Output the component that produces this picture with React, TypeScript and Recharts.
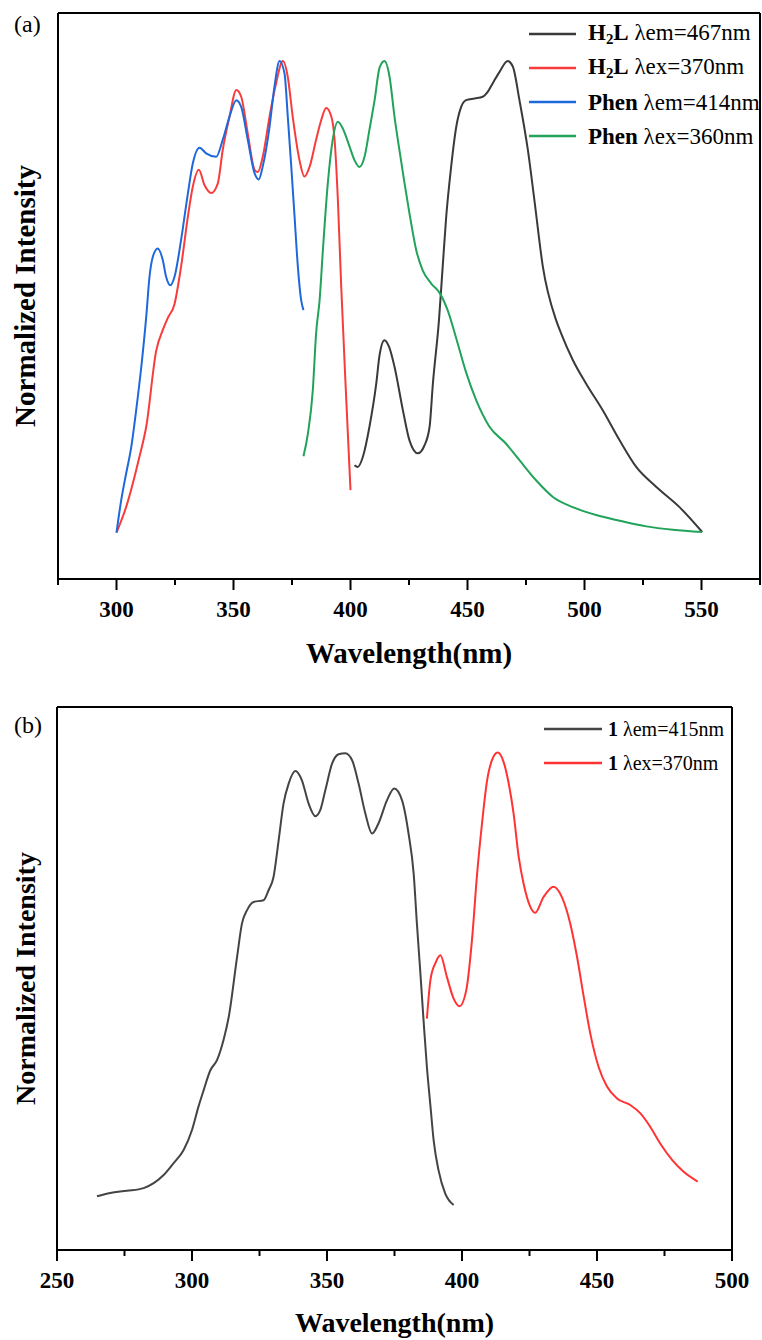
import React from 'react';
import { LineChart, Line, XAxis, YAxis, ReferenceLine, Legend } from 'recharts';

const SERIF = "'Liberation Serif', 'Times New Roman', 'DejaVu Serif', serif";

// panel (a): [wavelength nm, normalized intensity 0-100]
const H2L_EM: [number, number][] = [
  [401.7, 20.1], [403.1, 19.8], [405.3, 21.6], [408.1, 26.9], [411.0, 34.5], [412.4, 39.5],
  [414.5, 42.2], [416.5, 41.0], [418.8, 37.5], [422.4, 29.8], [425.2, 24.5], [428.8, 22.2],
  [431.5, 23.5], [433.8, 26.9], [435.2, 34.5], [437.8, 45.7], [439.4, 55.2], [440.9, 64.0],
  [443.0, 72.8], [445.2, 79.9], [447.3, 83.4], [449.4, 84.6], [453.0, 84.9], [456.5, 85.2],
  [458.7, 86.1], [460.8, 87.6], [463.7, 89.6], [467.2, 91.5], [469.4, 90.5], [472.2, 84.6],
  [475.8, 75.8], [478.6, 66.9], [482.2, 55.2], [487.9, 45.7], [490.0, 43.4], [495.0, 38.7],
  [500.7, 34.5], [507.8, 29.8], [515.0, 24.5], [522.1, 19.8], [530.6, 16.3], [540.6, 12.7],
  [550.3, 8.3],
];

const H2L_EX: [number, number][] = [
  [300.0, 8.2], [304.1, 12.7], [309.8, 21.6], [312.7, 26.9], [317.0, 40.4], [319.8, 44.0],
  [321.9, 46.1], [324.8, 48.6], [327.6, 55.2], [330.5, 64.0], [332.6, 69.3], [335.2, 72.3],
  [337.6, 69.6], [340.5, 68.2], [343.3, 69.9], [345.4, 75.8], [348.3, 81.7], [351.2, 86.4],
  [353.3, 85.2], [356.1, 78.7], [359.0, 72.3], [360.4, 71.9], [362.5, 74.6], [365.4, 81.7],
  [368.2, 87.6], [371.1, 91.5], [373.2, 88.7], [375.3, 81.7], [378.2, 74.0], [380.3, 71.1],
  [382.5, 72.8], [385.3, 77.6], [387.5, 81.1], [389.6, 83.2], [391.8, 81.7], [393.2, 77.6],
  [394.6, 67.0], [396.0, 52.0], [398.2, 31.6], [400.0, 15.7],
];

const PHEN_EM: [number, number][] = [
  [300.0, 8.2], [302.0, 13.9], [304.1, 18.6], [306.3, 23.3], [308.4, 29.8], [310.6, 37.5],
  [312.7, 46.3], [314.1, 53.4], [315.5, 56.9], [317.6, 58.4], [319.8, 56.3], [321.2, 53.4],
  [323.0, 51.9], [324.8, 53.4], [327.6, 59.9], [330.5, 68.1], [332.6, 73.4], [335.5, 76.2],
  [338.3, 75.2], [342.6, 74.6], [345.4, 77.6], [348.3, 81.7], [351.2, 84.6], [353.3, 83.4],
  [356.1, 77.6], [359.0, 71.7], [360.8, 70.6], [362.5, 72.9], [365.4, 79.9], [367.5, 87.0],
  [369.7, 91.5], [371.8, 89.3], [373.2, 81.7], [374.7, 72.8], [376.1, 64.0], [377.5, 55.2],
  [378.9, 49.3], [379.9, 47.5],
];

const PHEN_EX: [number, number][] = [
  [379.9, 21.7], [381.8, 25.7], [383.9, 33.4], [385.3, 43.4], [386.8, 49.3], [388.2, 58.1],
  [390.3, 69.9], [392.4, 77.6], [394.6, 80.8], [396.7, 79.6], [399.6, 76.4], [401.7, 74.0],
  [403.8, 72.8], [406.0, 74.6], [408.1, 79.4], [410.3, 84.6], [412.4, 90.3], [414.5, 91.5],
  [416.7, 88.7], [418.8, 81.7], [420.9, 75.8], [423.1, 69.9], [425.2, 64.6], [428.1, 58.1],
  [430.9, 54.5], [434.5, 52.2], [438.0, 50.6], [441.5, 47.5], [445.2, 42.5], [449.4, 36.5],
  [453.7, 31.6], [459.4, 26.9], [466.5, 23.9], [472.2, 21.0], [479.4, 17.4], [486.5, 14.5],
  [495.0, 12.7], [505.0, 11.3], [515.0, 10.3], [526.4, 9.3], [537.7, 8.7], [550.3, 8.3],
];

// panel (b)
const C1_EM: [number, number][] = [
  [264.8, 9.9], [269.7, 10.5], [275.9, 10.9], [282.1, 11.4], [285.8, 12.3], [289.5, 13.8],
  [293.2, 16.0], [296.9, 18.4], [300.0, 22.1], [302.4, 26.4], [304.3, 29.4], [306.8, 33.1],
  [309.3, 35.0], [311.7, 38.7], [313.6, 42.9], [316.7, 54.0], [318.5, 60.1], [320.4, 62.6],
  [322.8, 64.1], [326.5, 64.4], [328.4, 66.3], [330.2, 68.7], [332.1, 75.5], [333.9, 82.2],
  [335.8, 85.9], [338.3, 88.2], [340.7, 86.5], [343.2, 82.2], [345.7, 79.9], [347.5, 81.0],
  [349.4, 84.7], [351.9, 89.6], [354.3, 91.3], [356.8, 91.5], [359.3, 90.2], [361.7, 85.9],
  [364.2, 80.4], [366.7, 76.7], [369.1, 78.6], [372.2, 82.8], [374.9, 85.0], [377.8, 82.8],
  [380.2, 76.7], [382.1, 69.3], [383.3, 60.1], [384.6, 50.9], [385.8, 42.0], [387.0, 33.7],
  [388.3, 26.6], [389.5, 20.2], [391.3, 14.7], [393.8, 10.4], [396.9, 8.3],
];

const C1_EX: [number, number][] = [
  [387.0, 42.6], [388.3, 49.7], [390.1, 52.8], [392.0, 54.3], [394.4, 50.3], [396.9, 46.3],
  [399.1, 44.9], [401.6, 47.9], [403.7, 57.1], [405.6, 69.3], [407.4, 78.5], [409.3, 86.5],
  [411.1, 90.2], [413.2, 91.6], [415.4, 89.9], [417.3, 85.9], [419.1, 80.4], [421.0, 72.4],
  [422.8, 67.5], [425.3, 63.2], [427.1, 62.1], [430.2, 65.0], [433.9, 66.9], [437.0, 65.0],
  [440.1, 60.1], [442.6, 54.0], [445.0, 46.9], [447.5, 39.9], [450.6, 33.7], [453.7, 30.1],
  [457.4, 27.9], [462.3, 26.7], [466.0, 25.2], [469.7, 22.7], [473.4, 19.6], [477.8, 16.6],
  [482.1, 14.4], [487.3, 12.6],
];

const TICKS_A = [275, 300, 325, 350, 375, 400, 425, 450, 475, 500, 525, 550, 575];
const TICKS_B = [250, 275, 300, 325, 350, 375, 400, 425, 450, 475, 500];

const toPts = (arr: [number, number][]) => arr.map(([wl, v]) => ({ wl, v }));

const renderTick = (props: any) => {
  const { x, y, payload } = props;
  const major = payload.value % 50 === 0;
  return (
    <g>
      <line x1={x} x2={x} y1={y} y2={y + (major ? 11 : 6)} stroke="#000" strokeWidth={2} />
      {major && (
        <text x={x} y={y + 38} textAnchor="middle" fontFamily={SERIF} fontWeight="bold" fontSize={23} fill="#000">
          {payload.value}
        </text>
      )}
    </g>
  );
};

type Entry = { color: string; label: React.ReactNode };

function LegendBox({ entries, lineW, gap, rowH, fontSize }: { entries: Entry[]; lineW: number; gap: number; rowH: number; fontSize: number }) {
  return (
    <div style={{ fontFamily: SERIF, fontSize, color: '#000' }}>
      {entries.map((e, i) => (
        <div key={i} style={{ display: 'flex', alignItems: 'center', height: rowH, whiteSpace: 'nowrap' }}>
          <svg width={lineW} height={4} style={{ marginRight: gap, flex: 'none' }}>
            <line x1={0} x2={lineW} y1={2} y2={2} stroke={e.color} strokeWidth={2.5} />
          </svg>
          <span style={{ lineHeight: 1 }}>{e.label}</span>
        </div>
      ))}
    </div>
  );
}

const H2 = (
  <b>
    H<span style={{ fontSize: '0.65em', verticalAlign: '-0.3em' }}>2</span>L
  </b>
);

const LEGEND_A: Entry[] = [
  { color: '#3a3a3a', label: <>{H2} λem=467nm</> },
  { color: '#f83c3c', label: <>{H2} λex=370nm</> },
  { color: '#1f68dc', label: <><b>Phen</b> λem=414nm</> },
  { color: '#21a35a', label: <><b>Phen</b> λex=360nm</> },
];

const LEGEND_B: Entry[] = [
  { color: '#444444', label: <><b>1</b> λem=415nm</> },
  { color: '#ff3333', label: <><b>1</b> λex=370nm</> },
];

const axisLine = { stroke: '#000', strokeWidth: 2 };
const titleStyle = (fontSize: number) => ({ fontFamily: SERIF, fontWeight: 'bold', fontSize, fill: '#000', textAnchor: 'middle' as const });

export default function App() {
  return (
    <div style={{ position: 'absolute', left: 0, top: 0, width: 762, height: 1340, background: '#fff' }}>
      <div style={{ position: 'absolute', left: 0, top: 0 }}>
        <LineChart width={762} height={680} margin={{ top: 13, right: 2, bottom: 0, left: 0 }}>
          <XAxis
            type="number"
            dataKey="wl"
            domain={[275, 575]}
            ticks={TICKS_A}
            interval={0}
            allowDataOverflow
            tick={renderTick}
            tickLine={false}
            tickSize={0}
            tickMargin={0}
            axisLine={axisLine}
            height={101}
            label={{ value: 'Wavelength(nm)', position: 'insideBottom', offset: 17, style: titleStyle(29) }}
          />
          <YAxis
            type="number"
            domain={[0, 100]}
            tick={false}
            tickLine={false}
            axisLine={axisLine}
            width={58}
            label={{ value: 'Normalized Intensity', angle: -90, position: 'insideLeft', offset: 25, style: titleStyle(29) }}
          />
          <ReferenceLine y={100} stroke="#000" strokeWidth={2} />
          <ReferenceLine x={575} stroke="#000" strokeWidth={2} />
          <Line data={toPts(H2L_EM)} dataKey="v" type="monotone" stroke="#3a3a3a" strokeWidth={2} dot={false} isAnimationActive={false} />
          <Line data={toPts(H2L_EX)} dataKey="v" type="monotone" stroke="#f83c3c" strokeWidth={2} dot={false} isAnimationActive={false} />
          <Line data={toPts(PHEN_EM)} dataKey="v" type="monotone" stroke="#1f68dc" strokeWidth={2} dot={false} isAnimationActive={false} />
          <Line data={toPts(PHEN_EX)} dataKey="v" type="monotone" stroke="#21a35a" strokeWidth={2} dot={false} isAnimationActive={false} />
          <Legend
            layout="horizontal"
            verticalAlign="middle"
            align="center"
            wrapperStyle={{ top: 17, left: 529, width: 232 }}
            content={() => <LegendBox entries={LEGEND_A} lineW={47} gap={12} rowH={34} fontSize={23} />}
          />
        </LineChart>
        <div style={{ position: 'absolute', left: 14, top: 12, fontFamily: SERIF, fontSize: 24, lineHeight: '24px' }}>(a)</div>
      </div>

      <div style={{ position: 'absolute', left: 0, top: 680 }}>
        <LineChart width={762} height={660} margin={{ top: 27, right: 30, bottom: 0, left: 0 }}>
          <XAxis
            type="number"
            dataKey="wl"
            domain={[250, 500]}
            ticks={TICKS_B}
            interval={0}
            allowDataOverflow
            tick={renderTick}
            tickLine={false}
            tickSize={0}
            tickMargin={0}
            axisLine={axisLine}
            height={90}
            label={{ value: 'Wavelength(nm)', position: 'insideBottom', offset: 8, style: titleStyle(28) }}
          />
          <YAxis
            type="number"
            domain={[0, 100]}
            tick={false}
            tickLine={false}
            axisLine={axisLine}
            width={57}
            label={{ value: 'Normalized Intensity', angle: -90, position: 'insideLeft', offset: 25, style: titleStyle(28) }}
          />
          <ReferenceLine y={100} stroke="#000" strokeWidth={2} />
          <ReferenceLine x={500} stroke="#000" strokeWidth={2} />
          <Line data={toPts(C1_EM)} dataKey="v" type="monotone" stroke="#444444" strokeWidth={2} dot={false} isAnimationActive={false} />
          <Line data={toPts(C1_EX)} dataKey="v" type="monotone" stroke="#ff3333" strokeWidth={2} dot={false} isAnimationActive={false} />
          <Legend
            layout="horizontal"
            verticalAlign="middle"
            align="center"
            wrapperStyle={{ top: 32, left: 544, width: 190 }}
            content={() => <LegendBox entries={LEGEND_B} lineW={58} gap={6} rowH={34} fontSize={20} />}
          />
        </LineChart>
        <div style={{ position: 'absolute', left: 14, top: 33, fontFamily: SERIF, fontSize: 24, lineHeight: '24px' }}>(b)</div>
      </div>
    </div>
  );
}
